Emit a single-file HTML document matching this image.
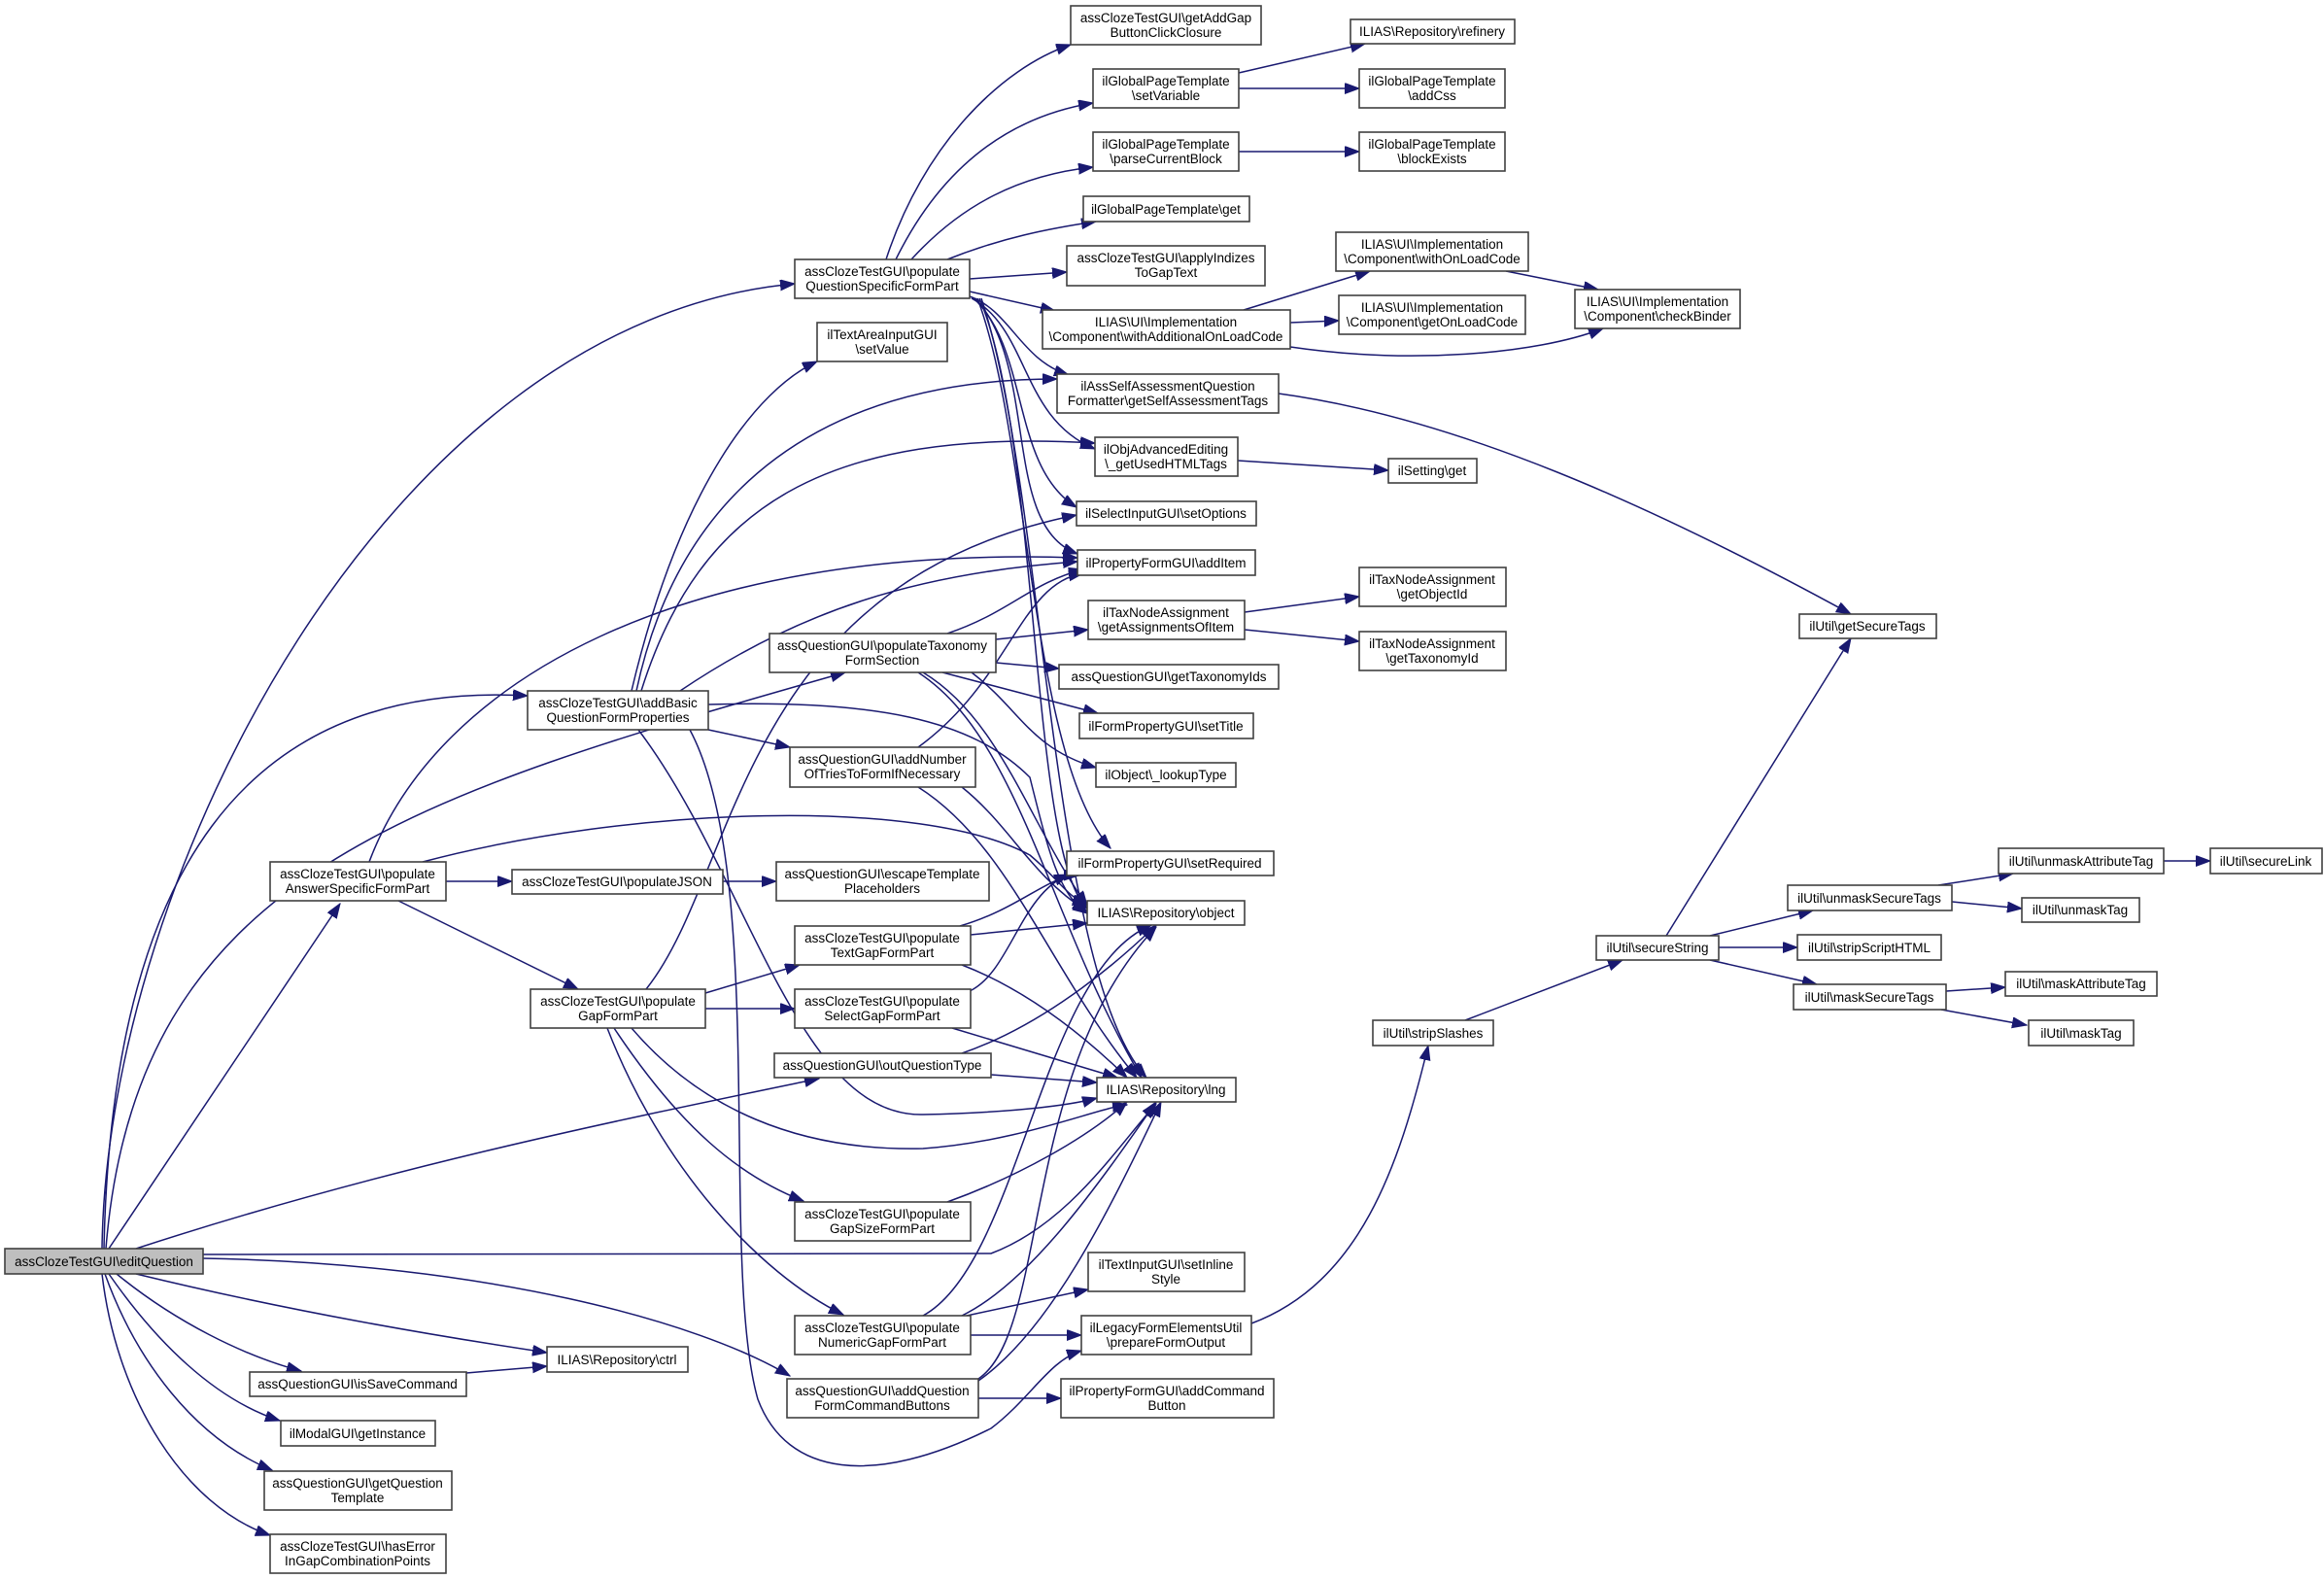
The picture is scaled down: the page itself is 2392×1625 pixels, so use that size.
<!DOCTYPE html>
<html><head><meta charset="utf-8"><style>
html,body{margin:0;padding:0;background:#fff}
svg{display:block}
rect{fill:#fff;stroke:#404040;stroke-width:1.6}
text{font-family:"Liberation Sans",Arial,sans-serif;font-size:13.5px;text-anchor:middle;fill:#000}
path.e{fill:none;stroke:#191970;stroke-width:1.5;marker-end:url(#a)}
</style></head><body>
<svg width="2392" height="1625" viewBox="0 0 2392 1625" xmlns="http://www.w3.org/2000/svg">
<defs><marker id="a" markerUnits="userSpaceOnUse" markerWidth="16" markerHeight="12" refX="15" refY="5.5" orient="auto"><path d="M0,0 L15,5.5 L0,11 z" fill="#191970" stroke="#191970"/></marker></defs>

<!-- edges from editQuestion -->
<path class="e" d="M105 1285 C110 900 400 330 818 292"/>
<path class="e" d="M107 1285 C115 900 250 700 543 716"/>
<path class="e" d="M109 1285 C140 900 420 820 870 692"/>
<path class="e" d="M112 1285 L350 930"/>
<path class="e" d="M140 1285 C400 1200 650 1150 843 1110"/>
<path class="e" d="M209 1291 L1020 1290 C1100 1260 1150 1180 1190 1136"/>
<path class="e" d="M209 1295 C500 1300 720 1360 813 1416"/>
<path class="e" d="M140 1311 C300 1350 450 1375 563 1392"/>
<path class="e" d="M120 1311 C180 1360 250 1395 310 1411"/>
<path class="e" d="M112 1311 C160 1380 220 1440 288 1462"/>
<path class="e" d="M108 1311 C140 1400 200 1480 280 1513"/>
<path class="e" d="M105 1311 C120 1440 190 1550 278 1580"/>
<path class="e" d="M480 1413 L563 1406"/>

<!-- populateQuestionSpecificFormPart -->
<path class="e" d="M912 267 C950 150 1030 70 1102 46"/>
<path class="e" d="M922 267 C970 170 1040 120 1125 106"/>
<path class="e" d="M938 267 C990 210 1050 180 1125 172"/>
<path class="e" d="M975 267 C1030 245 1080 235 1128 228"/>
<path class="e" d="M998 287 L1098 280"/>
<path class="e" d="M998 300 L1086 320"/>
<path class="e" d="M998 305 C1040 320 1050 370 1100 386"/>
<path class="e" d="M1000 307 C1060 340 1050 430 1127 462"/>
<path class="e" d="M1002 307 C1060 360 1040 480 1108 522"/>
<path class="e" d="M1004 307 C1070 380 1030 540 1109 570"/>
<path class="e" d="M1006 307 C1060 450 1060 780 1143 873"/>
<path class="e" d="M1008 307 C1070 450 1060 880 1119 935"/>
<path class="e" d="M1010 307 C1075 500 1080 1000 1180 1109"/>

<path class="e" d="M1275 75 L1405 45"/>
<path class="e" d="M1275 91 L1399 91"/>
<path class="e" d="M1275 156 L1399 156"/>
<path class="e" d="M1280 319 L1410 279"/>
<path class="e" d="M1328 332 L1378 330"/>
<path class="e" d="M1328 357 C1450 375 1580 365 1650 338"/>
<path class="e" d="M1550 279 L1645 298"/>
<path class="e" d="M1316 405 C1500 430 1700 520 1905 632"/>
<path class="e" d="M1274 474 L1429 484"/>
<path class="e" d="M1281 630 L1399 614"/>
<path class="e" d="M1281 648 L1399 660"/>

<!-- addBasic -->
<path class="e" d="M650 711 C700 500 780 400 841 372"/>
<path class="e" d="M655 711 C700 500 850 390 1088 390"/>
<path class="e" d="M660 711 C720 520 850 440 1127 456"/>
<path class="e" d="M700 711 C820 630 940 590 1109 578"/>
<path class="e" d="M729 725 C900 720 1000 740 1060 800 C1080 880 1090 920 1119 940"/>
<path class="e" d="M729 751 L813 769"/>
<path class="e" d="M657 751 C770 900 820 1150 950 1147 C1040 1145 1100 1138 1129 1130"/>
<path class="e" d="M710 751 C790 900 740 1300 780 1440 C810 1520 900 1530 1020 1470 C1060 1440 1080 1400 1113 1390"/>

<!-- populateAnswerSpecific -->
<path class="e" d="M380 887 C450 700 700 560 1109 574"/>
<path class="e" d="M435 887 C650 830 950 820 1060 880 C1090 905 1100 925 1119 930"/>
<path class="e" d="M459 907 L527 907"/>
<path class="e" d="M410 927 L595 1018"/>
<path class="e" d="M744 907 L799 907"/>

<!-- populateGapFormPart -->
<path class="e" d="M726 1022 L823 993"/>
<path class="e" d="M726 1038 L818 1038"/>
<path class="e" d="M632 1058 C700 1160 760 1210 827 1236"/>
<path class="e" d="M625 1058 C680 1200 780 1310 868 1353"/>
<path class="e" d="M665 1018 C760 900 760 600 1108 530"/>
<path class="e" d="M650 1058 C720 1140 820 1185 950 1182 C1050 1175 1130 1140 1160 1137"/>

<!-- populateTaxonomy -->
<path class="e" d="M975 652 C1040 630 1060 600 1115 586"/>
<path class="e" d="M1025 658 L1120 648"/>
<path class="e" d="M1025 682 L1090 688"/>
<path class="e" d="M970 692 L1130 734"/>
<path class="e" d="M1000 692 C1050 730 1060 770 1128 790"/>
<path class="e" d="M950 692 C1030 740 1060 850 1119 932"/>
<path class="e" d="M945 692 C1050 760 1080 950 1175 1109"/>

<!-- addNumberOfTries -->
<path class="e" d="M945 769 C1040 700 1050 600 1115 590"/>
<path class="e" d="M990 810 C1040 850 1060 900 1119 938"/>
<path class="e" d="M945 810 C1040 870 1080 1000 1170 1109"/>

<!-- text/select gap -->
<path class="e" d="M988 953 C1050 935 1080 900 1110 901"/>
<path class="e" d="M999 962 L1119 950"/>
<path class="e" d="M990 993 C1060 1020 1120 1070 1160 1109"/>
<path class="e" d="M998 1020 C1040 1000 1050 920 1100 900"/>
<path class="e" d="M980 1058 L1150 1109"/>
<path class="e" d="M990 1084 C1060 1060 1130 1010 1190 952"/>
<path class="e" d="M1020 1106 L1129 1114"/>
<path class="e" d="M975 1237 C1050 1210 1120 1170 1160 1134"/>
<!-- numeric gap -->
<path class="e" d="M950 1354 C1050 1300 1070 1000 1185 952"/>
<path class="e" d="M990 1354 C1060 1320 1130 1220 1190 1134"/>
<path class="e" d="M995 1354 L1120 1327"/>
<path class="e" d="M999 1374 L1113 1374"/>
<!-- addQuestionFormCommandButtons -->
<path class="e" d="M1007 1419 C1080 1370 1050 1100 1190 954"/>
<path class="e" d="M1007 1421 C1080 1370 1140 1250 1195 1134"/>
<path class="e" d="M1007 1439 L1092 1439"/>

<path class="e" d="M1288 1362 C1400 1320 1440 1200 1470 1076"/>
<path class="e" d="M1508 1050 L1670 988"/>
<path class="e" d="M1715 963 L1905 657"/>
<path class="e" d="M1760 963 L1866 937"/>
<path class="e" d="M1769 975 L1850 975"/>
<path class="e" d="M1760 988 L1870 1013"/>
<path class="e" d="M1995 911 L2072 899"/>
<path class="e" d="M2009 928 L2081 935"/>
<path class="e" d="M2003 1020 L2064 1016"/>
<path class="e" d="M1998 1039 L2086 1055"/>
<path class="e" d="M2227 886 L2275 886"/>

<!-- nodes -->
<rect x="5" y="1285" width="204" height="26" style="fill:#bfbfbf"/><text x="107" y="1303">assClozeTestGUI\editQuestion</text>

<rect x="818" y="267" width="180" height="40"/><text x="908" y="284">assClozeTestGUI\populate</text><text x="908" y="299">QuestionSpecificFormPart</text>
<rect x="841" y="332" width="134" height="40"/><text x="908" y="349">ilTextAreaInputGUI</text><text x="908" y="364">\setValue</text>
<rect x="543" y="711" width="186" height="40"/><text x="636" y="728">assClozeTestGUI\addBasic</text><text x="636" y="743">QuestionFormProperties</text>
<rect x="278" y="887" width="181" height="40"/><text x="368" y="904">assClozeTestGUI\populate</text><text x="368" y="919">AnswerSpecificFormPart</text>
<rect x="527" y="895" width="217" height="25"/><text x="635" y="912">assClozeTestGUI\populateJSON</text>
<rect x="546" y="1018" width="180" height="40"/><text x="636" y="1035">assClozeTestGUI\populate</text><text x="636" y="1050">GapFormPart</text>
<rect x="257" y="1412" width="223" height="25"/><text x="368" y="1429">assQuestionGUI\isSaveCommand</text>
<rect x="289" y="1462" width="159" height="26"/><text x="368" y="1480">ilModalGUI\getInstance</text>
<rect x="272" y="1514" width="193" height="40"/><text x="368" y="1531">assQuestionGUI\getQuestion</text><text x="368" y="1546">Template</text>
<rect x="278" y="1579" width="181" height="40"/><text x="368" y="1596">assClozeTestGUI\hasError</text><text x="368" y="1611">InGapCombinationPoints</text>
<rect x="563" y="1386" width="145" height="26"/><text x="635" y="1404">ILIAS\Repository\ctrl</text>

<rect x="792" y="652" width="233" height="40"/><text x="908" y="669">assQuestionGUI\populateTaxonomy</text><text x="908" y="684">FormSection</text>
<rect x="813" y="769" width="191" height="41"/><text x="908" y="786">assQuestionGUI\addNumber</text><text x="908" y="801">OfTriesToFormIfNecessary</text>
<rect x="799" y="887" width="219" height="40"/><text x="908" y="904">assQuestionGUI\escapeTemplate</text><text x="908" y="919">Placeholders</text>
<rect x="818" y="953" width="181" height="40"/><text x="908" y="970">assClozeTestGUI\populate</text><text x="908" y="985">TextGapFormPart</text>
<rect x="818" y="1018" width="181" height="40"/><text x="908" y="1035">assClozeTestGUI\populate</text><text x="908" y="1050">SelectGapFormPart</text>
<rect x="797" y="1084" width="223" height="25"/><text x="908" y="1101">assQuestionGUI\outQuestionType</text>
<rect x="818" y="1237" width="181" height="40"/><text x="908" y="1254">assClozeTestGUI\populate</text><text x="908" y="1269">GapSizeFormPart</text>
<rect x="818" y="1354" width="181" height="40"/><text x="908" y="1371">assClozeTestGUI\populate</text><text x="908" y="1386">NumericGapFormPart</text>
<rect x="810" y="1419" width="197" height="40"/><text x="908" y="1436">assQuestionGUI\addQuestion</text><text x="908" y="1451">FormCommandButtons</text>

<rect x="1102" y="6" width="196" height="40"/><text x="1200" y="23">assClozeTestGUI\getAddGap</text><text x="1200" y="38">ButtonClickClosure</text>
<rect x="1125" y="71" width="150" height="40"/><text x="1200" y="88">ilGlobalPageTemplate</text><text x="1200" y="103">\setVariable</text>
<rect x="1125" y="136" width="150" height="40"/><text x="1200" y="153">ilGlobalPageTemplate</text><text x="1200" y="168">\parseCurrentBlock</text>
<rect x="1115" y="202" width="171" height="26"/><text x="1200" y="220">ilGlobalPageTemplate\get</text>
<rect x="1098" y="253" width="204" height="41"/><text x="1200" y="270">assClozeTestGUI\applyIndizes</text><text x="1200" y="285">ToGapText</text>
<rect x="1073" y="319" width="255" height="40"/><text x="1200" y="336">ILIAS\UI\Implementation</text><text x="1200" y="351">\Component\withAdditionalOnLoadCode</text>
<rect x="1088" y="385" width="228" height="40"/><text x="1202" y="402">ilAssSelfAssessmentQuestion</text><text x="1202" y="417">Formatter\getSelfAssessmentTags</text>
<rect x="1127" y="450" width="147" height="40"/><text x="1200" y="467">ilObjAdvancedEditing</text><text x="1200" y="482">\_getUsedHTMLTags</text>
<rect x="1108" y="516" width="185" height="25"/><text x="1200" y="533">ilSelectInputGUI\setOptions</text>
<rect x="1109" y="566" width="183" height="26"/><text x="1200" y="584">ilPropertyFormGUI\addItem</text>
<rect x="1120" y="618" width="161" height="40"/><text x="1200" y="635">ilTaxNodeAssignment</text><text x="1200" y="650">\getAssignmentsOfItem</text>
<rect x="1090" y="684" width="226" height="25"/><text x="1203" y="701">assQuestionGUI\getTaxonomyIds</text>
<rect x="1111" y="734" width="179" height="26"/><text x="1200" y="752">ilFormPropertyGUI\setTitle</text>
<rect x="1128" y="785" width="144" height="25"/><text x="1200" y="802">ilObject\_lookupType</text>
<rect x="1098" y="876" width="213" height="25"/><text x="1204" y="893">ilFormPropertyGUI\setRequired</text>
<rect x="1119" y="927" width="162" height="25"/><text x="1200" y="944">ILIAS\Repository\object</text>
<rect x="1129" y="1109" width="143" height="25"/><text x="1200" y="1126">ILIAS\Repository\lng</text>
<rect x="1120" y="1289" width="161" height="40"/><text x="1200" y="1306">ilTextInputGUI\setInline</text><text x="1200" y="1321">Style</text>
<rect x="1113" y="1354" width="175" height="40"/><text x="1200" y="1371">ilLegacyFormElementsUtil</text><text x="1200" y="1386">\prepareFormOutput</text>
<rect x="1092" y="1419" width="219" height="40"/><text x="1201" y="1436">ilPropertyFormGUI\addCommand</text><text x="1201" y="1451">Button</text>

<rect x="1390" y="20" width="169" height="25"/><text x="1474" y="37">ILIAS\Repository\refinery</text>
<rect x="1399" y="71" width="150" height="40"/><text x="1474" y="88">ilGlobalPageTemplate</text><text x="1474" y="103">\addCss</text>
<rect x="1399" y="136" width="150" height="40"/><text x="1474" y="153">ilGlobalPageTemplate</text><text x="1474" y="168">\blockExists</text>
<rect x="1375" y="239" width="198" height="40"/><text x="1474" y="256">ILIAS\UI\Implementation</text><text x="1474" y="271">\Component\withOnLoadCode</text>
<rect x="1378" y="304" width="192" height="40"/><text x="1474" y="321">ILIAS\UI\Implementation</text><text x="1474" y="336">\Component\getOnLoadCode</text>
<rect x="1429" y="472" width="91" height="25"/><text x="1474" y="489">ilSetting\get</text>
<rect x="1399" y="584" width="151" height="40"/><text x="1474" y="601">ilTaxNodeAssignment</text><text x="1474" y="616">\getObjectId</text>
<rect x="1399" y="650" width="151" height="40"/><text x="1474" y="667">ilTaxNodeAssignment</text><text x="1474" y="682">\getTaxonomyId</text>
<rect x="1413" y="1050" width="124" height="26"/><text x="1475" y="1068">ilUtil\stripSlashes</text>
<rect x="1621" y="298" width="170" height="40"/><text x="1706" y="315">ILIAS\UI\Implementation</text><text x="1706" y="330">\Component\checkBinder</text>

<rect x="1852" y="632" width="141" height="25"/><text x="1922" y="649">ilUtil\getSecureTags</text>
<rect x="1643" y="963" width="126" height="25"/><text x="1706" y="980">ilUtil\secureString</text>
<rect x="1840" y="911" width="169" height="26"/><text x="1924" y="929">ilUtil\unmaskSecureTags</text>
<rect x="1850" y="962" width="148" height="26"/><text x="1924" y="980">ilUtil\stripScriptHTML</text>
<rect x="1846" y="1013" width="157" height="26"/><text x="1924" y="1031">ilUtil\maskSecureTags</text>
<rect x="2057" y="873" width="170" height="26"/><text x="2142" y="891">ilUtil\unmaskAttributeTag</text>
<rect x="2275" y="873" width="115" height="26"/><text x="2332" y="891">ilUtil\secureLink</text>
<rect x="2081" y="924" width="121" height="25"/><text x="2141" y="941">ilUtil\unmaskTag</text>
<rect x="2064" y="1000" width="156" height="25"/><text x="2142" y="1017">ilUtil\maskAttributeTag</text>
<rect x="2088" y="1050" width="108" height="26"/><text x="2142" y="1068">ilUtil\maskTag</text>
</svg>
</body></html>
